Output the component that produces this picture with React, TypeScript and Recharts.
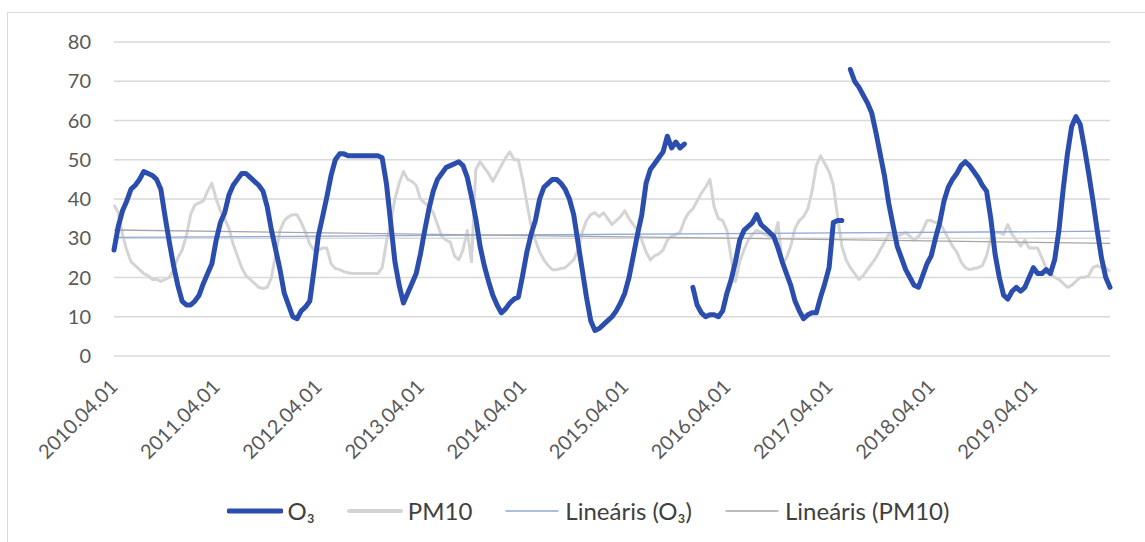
import { LineChart, Line, XAxis, YAxis, CartesianGrid } from "recharts";

// half-month steps from 2010.04.01 (t = months since start)
const o3 = [
  27, 33, 37, 39.5, 42.5, 43.5, 45, 47, 46.5, 46,
  45, 42.5, 35.5, 29, 23, 18, 14, 13, 13, 14,
  15.5, 18.5, 21, 23.5, 29.5, 34, 36.5, 41, 43.5, 45,
  46.5, 46.5, 45.5, 44.5, 43.5, 42, 38, 32, 27, 22,
  16, 13, 10, 9.5, 11.5, 12.5, 14, 22, 30.5, 35.5,
  40.5, 46, 50, 51.5, 51.5, 51, 51, 51, 51, 51,
  51, 51, 51, 50.5, 44, 34, 24, 18, 13.5, 16,
  18.5, 21, 26, 32, 37.5, 42, 45, 46.5, 48, 48.5,
  49, 49.5, 48.5, 45.5, 40.5, 35, 28, 23, 19, 15.5,
  13, 11, 12, 13.5, 14.5, 15, 20.5, 26.5, 31, 34.5,
  40, 43, 44, 45, 45, 44, 42.5, 40, 36, 29,
  22, 15, 9, 6.5, 7, 8, 9, 10, 11.5, 13.5,
  16, 20, 25.5, 31, 36, 44, 47.5, 49, 50.5, 52,
  56, 53, 54.5, 53, 54, null, 17.5, 13, 11, 10,
  10.5, 10.5, 10, 11.5, 16, 19.5, 24, 29.5, 32, 33,
  34, 36, 33.5, 32.5, 31.5, 30.5, 27.5, 24, 21, 18,
  14, 11.5, 9.5, 10.5, 11, 11, 15, 18.5, 22.5, 34,
  34.5, 34.5, null, 73, 70, 68.5, 66.5, 64.5, 62, 57,
  51.5, 46, 39, 33.5, 28, 25, 22, 20, 18, 17.5,
  20.5, 23.5, 25.5, 30, 34, 39.5, 43, 45, 46.5, 48.5,
  49.5, 48.5, 47, 45.5, 43.5, 42, 35, 26, 20, 15.5,
  14.5, 16.5, 17.5, 16.5, 17.5, 20, 22.5, 21, 21, 22,
  21, 24.5, 32, 42.5, 51.5, 58.5, 61, 59, 53, 46.5,
  39.5, 32, 25, 20, 17.5,
];

const pm10 = [
  38.5, 36.5, 31, 27, 24, 23, 22, 21, 20.5, 19.5,
  19.5, 19, 19.5, 20, 22, 25, 27, 30.5, 36, 38.5,
  39, 39.5, 42, 44, 40, 37, 35, 32.5, 28.5, 25.5,
  22.5, 20.5, 19.5, 18.5, 17.5, 17.2, 17.5, 20, 26, 32,
  34.5, 35.5, 36, 36, 34, 31.5, 28.5, 27, 27, 27.5,
  27.5, 23.5, 22.3, 22, 21.5, 21.2, 21, 21, 21, 21,
  21, 21, 21, 22.5, 29, 34, 40, 44, 47, 45,
  44.5, 43.5, 40, 39, 38, 36.5, 33.5, 30.5, 29.5, 29,
  25.5, 24.5, 27, 32, 24, 47.5, 49.5, 48, 46.5, 44.5,
  46.5, 48.5, 50.5, 52, 50, 50, 45, 39, 33, 29.5,
  26.5, 24.5, 23, 22, 22, 22.3, 22.5, 23.5, 24.5, 27,
  31.5, 34.5, 36, 36.5, 35.5, 36.5, 35, 33.5, 34.5, 35.5,
  37, 35, 33.5, 32, 29.5, 26.5, 24.5, 25.5, 26, 27,
  29.5, 30.5, 31, 31.5, 34.5, 36.5, 37.5, 39.5, 41.5, 43,
  45, 38, 35, 34.5, 32, 25, 19, 24, 27, 29.5,
  31, 32, 31.5, 31, 30.5, 30, 34, 23.5, 25, 28,
  32.5, 34.5, 35.5, 37.5, 42, 48.5, 51, 49, 47, 43.5,
  35.5, 28, 24.5, 22.5, 21, 19.5, 20.5, 22, 23.5, 25,
  27, 29, 31, 30.5, 30.5, 31, 31.5, 30.5, 29.5, 30.5,
  32, 34.5, 34.5, 34, 34, 32, 30, 28, 26.5, 24,
  22.5, 22, 22.3, 22.5, 23, 25.5, 30, 31.5, 31.5, 31,
  33.5, 31, 29.5, 28, 29.5, 27.5, 27.5, 27.5, 25, 22.5,
  21, 20, 19.5, 18.5, 17.5, 18, 19, 20, 20, 20.5,
  22.5, 23, 22.5, 22.5, 21.5,
];

// linear trend end points (start / end of the axis)
const trendMonths = [0, 117];
const o3Trend = [30.2, 31.8];
const pm10Trend = [32.1, 28.7];

const tickMonths = [0, 12, 24, 36, 48, 60, 72, 84, 96, 108];
const tickLabels = [
  "2010.04.01", "2011.04.01", "2012.04.01", "2013.04.01", "2014.04.01",
  "2015.04.01", "2016.04.01", "2017.04.01", "2018.04.01", "2019.04.01",
];
const yTicks = [0, 10, 20, 30, 40, 50, 60, 70, 80];

const data = o3.map((v, i) => ({ t: i / 2, o3: v, pm10: pm10[i] }));
const trendData = trendMonths.map((t, i) => ({ t, o3Trend: o3Trend[i], pm10Trend: pm10Trend[i] }));

const FONT = 'Lato, "Liberation Sans", sans-serif';
const TEXT = "#595959";
const BLUE = "#2B4EAE";
const GRAY = "#D4D4D4";
const BLUE_TREND = "#8FAADC";
const GRAY_TREND = "#A6A6A6";

const DateTick = ({ x, y, payload }: any) => {
  const idx = tickMonths.indexOf(payload.value);
  return (
    <text
      x={x + 5}
      y={y + 24}
      textAnchor="end"
      fill={TEXT}
      fontSize={20}
      fontFamily={FONT}
      transform={`rotate(-45 ${x + 5} ${y + 24})`}
    >
      {idx >= 0 ? tickLabels[idx] : ""}
    </text>
  );
};

const legendItems = [
  { label: "O₃", color: BLUE, width: 5 },
  { label: "PM10", color: GRAY, width: 4 },
  { label: "Lineáris (O₃)", color: BLUE_TREND, width: 1.3 },
  { label: "Lineáris (PM10)", color: GRAY_TREND, width: 1.3 },
];

export default function App() {
  return (
    <div style={{ position: "fixed", left: 0, top: 0, width: 1145, height: 542, background: "#fff", overflow: "hidden", fontFamily: FONT }}>
      <div style={{ position: "absolute", left: 7, top: 12, width: 1160, height: 560, border: "1.5px solid #D9D9D9" }} />
      <div style={{ position: "absolute", left: 0, top: 0 }}>
        <LineChart width={1145} height={542} data={data} margin={{ top: 42, right: 35, bottom: 86, left: 54 }}>
          <CartesianGrid vertical={false} stroke="#D9D9D9" strokeWidth={1.3} />
          <XAxis
            dataKey="t"
            type="number"
            domain={[0, 117]}
            ticks={tickMonths}
            interval={0}
            axisLine={false}
            tickLine={false}
            height={100}
            tick={<DateTick />}
          />
          <YAxis
            domain={[0, 80]}
            ticks={yTicks}
            width={60}
            axisLine={false}
            tickLine={false}
            tickMargin={17}
            tick={{ fill: TEXT, fontSize: 20, fontFamily: FONT }}
          />
          <Line
            dataKey="pm10"
            stroke={GRAY}
            strokeWidth={3}
            dot={false}
            type="linear"
            strokeLinejoin="round"
            isAnimationActive={false}
          />
          <Line
            data={trendData}
            dataKey="o3Trend"
            stroke={BLUE_TREND}
            strokeWidth={1.3}
            dot={false}
            type="linear"
            isAnimationActive={false}
          />
          <Line
            data={trendData}
            dataKey="pm10Trend"
            stroke={GRAY_TREND}
            strokeWidth={1.3}
            dot={false}
            type="linear"
            isAnimationActive={false}
          />
          <Line
            dataKey="o3"
            stroke={BLUE}
            strokeWidth={5}
            dot={false}
            type="linear"
            strokeLinejoin="round"
            strokeLinecap="round"
            connectNulls={false}
            isAnimationActive={false}
          />
        </LineChart>
      </div>
      <div
        style={{
          position: "absolute",
          left: 0,
          top: 496,
          width: 1176,
          display: "flex",
          justifyContent: "center",
          alignItems: "center",
          fontSize: 24,
          color: TEXT,
        }}
      >
        {legendItems.map((item, i) => (
          <div key={item.label} style={{ display: "flex", alignItems: "center", marginRight: i < legendItems.length - 1 ? 32 : 0 }}>
            <svg width={56} height={12} style={{ marginRight: 5 }}>
              <line x1={2} y1={6} x2={54} y2={6} stroke={item.color} strokeWidth={item.width} strokeLinecap="round" />
            </svg>
            <span style={{ color: "#404040" }}>{item.label}</span>
          </div>
        ))}
      </div>
    </div>
  );
}
